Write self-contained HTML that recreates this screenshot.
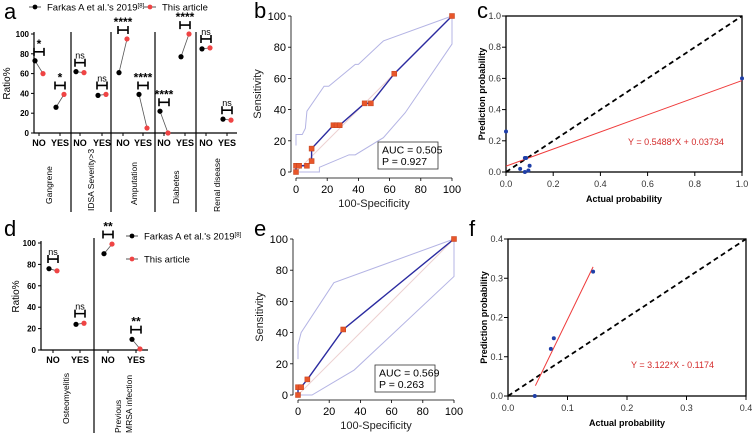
<!DOCTYPE html>
<html><head><meta charset="utf-8"><style>
body{margin:0;background:#fff}
svg{display:block;font-family:"Liberation Sans",Arial,sans-serif}
</style></head><body>
<svg id="s" width="753" height="438" viewBox="0 0 753 438"></svg>
<script>
// ---- Panel a data
const aCats=["NO","YES","NO","YES","NO","YES","NO","YES","NO","YES"];
const aGroups=["Gangrene","IDSA Severity>3","Amputation","Diabetes","Renal disease"];
const aFarkas=[73,26,62,38,61,39,22,77,85,14];
const aThis=[60,39,61,39,95,5,0,100,86,13];
const aSig=["*","*","ns","ns","****","****","****","****","ns","ns"];
const aTicks=[0,20,40,60,80,100];
// ---- Panel d data
const dCats=["NO","YES","NO","YES"];
const dFarkas=[76,24,90,10];
const dThis=[74,25,99,1];
const dSig=["ns","ns","**","**"];
// ---- Panel b data
const bX=[0,0,2,7,10,10,24,26,28,44,48,63,100];
const bY=[0,4,4,4,7,15,30,30,30,44,44,63,100];
const bUpX=[0,0,4,6,7,18,21,38,40,56,100];
const bUpY=[17,24,24,28,39,55,55,69,69,84,100];
const bLoX=[2,15,15,34,38,56,70,100,100];
const bLoY=[0,0,3,11,11,22,38,82,100];
// ---- Panel e data
const eX=[0,0,2,6,29,100];
const eY=[0,5,5,10,42,100];
const eUpX=[0,0,2,23,100];
const eUpY=[23,32,40,72,100];
const eLoX=[0,9,36,100,100];
const eLoY=[0,0,16,76,100];
const rocTicks=[0,20,40,60,80,100];
// ---- Panel c data
const cX=[0,0.06,0.08,0.085,0.1,0.08,0.095,1.0];
const cY=[0.26,0.02,0.09,0.09,0.04,0,0.01,0.6];
const cSlope=0.5488, cInt=0.03734;
const cTicks=[0,0.2,0.4,0.6,0.8,1.0];
// ---- Panel f data
const fX=[0.045,0.072,0.077,0.143];
const fY=[0,0.12,0.147,0.317];
const fSlope=3.122, fInt=-0.1174, fFitRange=[0.046,0.143];
const fTicks=[0,0.1,0.2,0.3,0.4];

const S=document.getElementById('s');
const NS="http://www.w3.org/2000/svg";
function el(tag,at,txt){const e=document.createElementNS(NS,tag);for(const k in at)e.setAttribute(k,at[k]);if(txt!==undefined)e.textContent=txt;S.appendChild(e);return e;}
function tx(x,y,t,o){o=o||{};const e=el('text',{x:x,y:y,'font-size':o.fs||9,'text-anchor':o.a||'middle',fill:o.c||'#000','font-weight':o.b?'bold':'normal',transform:o.r?`rotate(-90 ${x} ${y})`:''},t);return e;}

// panel letters
[["a",4,19],["b",254,18],["c",477,18],["d",4,236],["e",254,236],["f",469,236]].forEach(p=>{
 const e=tx(p[1],p[2],p[0],{fs:22,a:'start'});
 
 
});

// ---------- categorical panels (a, d)
function catPanel(cfg){
 const ys=v=>cfg.y0-(cfg.y0-cfg.y100)*v/100;
 const ax=el('path',{d:`M${cfg.x0},${cfg.y100-2}V${cfg.y0}H${cfg.x1}`,stroke:'#000','stroke-width':1.2,fill:'none'});
 
 
 aTicks.forEach(t=>{
  el('line',{x1:cfg.x0-3,x2:cfg.x0,y1:ys(t),y2:ys(t),stroke:'#000'});
  const l=tx(cfg.x0-5,ys(t)+3,t,{fs:8,a:'end',b:1});
  
  
 });
 const yt=tx(cfg.ytx,(cfg.y0+cfg.y100)/2,'Ratio%',{fs:10,r:1,b:0});
 
 
 cfg.cats.forEach((c,i)=>{
  const cx=cfg.cx[i];
  el('line',{x1:cx,x2:cx,y1:cfg.y0,y2:cfg.y0+3,stroke:'#000'});
  const l=tx(cx,cfg.y0+13,c,{fs:9,b:1});
  
  
  const xb=cx-4,xr=cx+4,yb=ys(cfg.far[i]),yr=ys(cfg.thi[i]);
  el('line',{x1:xb,y1:yb,x2:xr,y2:yr,stroke:'#555','stroke-width':0.8});
  const pb=el('circle',{cx:xb,cy:yb,r:2.6,fill:'#000'});
  
  
  const pr=el('circle',{cx:xr,cy:yr,r:2.6,fill:'#ef4444'});
  
  
  const by=ys(Math.max(cfg.far[i],cfg.thi[i])+9);
  const br=el('path',{d:`M${xb-1},${by-4}V${by+4}M${xb-1},${by}H${xr+1}M${xr+1},${by-4}V${by+4}`,stroke:'#000','stroke-width':1.6,fill:'none'});
  
  
  const sl=tx(cx,by-4,cfg.sig[i],{fs:cfg.sig[i]=='ns'?9:12,b:cfg.sig[i]!='ns'});
  
  
 });
 cfg.divs.forEach(d=>el('line',{x1:d,x2:d,y1:cfg.dTop,y2:cfg.dBot,stroke:'#000','stroke-width':1.2}));
 cfg.groups.forEach((g,i)=>{
  g.lines.forEach((ln,j)=>{
   const l=tx(g.x+j*11,g.y,ln,{fs:8.5,r:1,a:'start',b:0});
   
   
  });
 });
}
catPanel({n:'panel-a',x0:34,x1:237,y0:133,y100:34,ytx:10,cats:aCats,cx:[39,60,80,102,123,143,164,185,206,227],
 far:aFarkas,thi:aThis,sig:aSig,divs:[71,111,155,196],dTop:32,dBot:212,
 groups:[{x:52,y:204,lines:["Gangrene"]},{x:94,y:211,lines:["IDSA Severity>3"]},{x:137,y:205,lines:["Amputation"]},{x:179,y:204,lines:["Diabetes"]},{x:220,y:212,lines:["Renal disease"]}]});
catPanel({n:'panel-d',x0:41,x1:148,y0:350,y100:243,ytx:19,cats:dCats,cx:[53,80,108,136],
 far:dFarkas,thi:dThis,sig:dSig,divs:[94],dTop:238,dBot:433,
 groups:[{x:69,y:424,lines:["Osteomyelitis"]},{x:121,y:433,lines:["Previous","MRSA infection"]}]});

// legends
function legend(x,y,label,col){
 el('line',{x1:x-6,x2:x+6,y1:y,y2:y,stroke:'#555'});
 el('circle',{cx:x,cy:y,r:2.4,fill:col});
 const t=el('text',{x:x+12,y:y+3.5,'font-size':9.5});
 t.textContent=label;
 return t;
}
let L=legend(35,7,"Farkas A et al.'s 2019",'#000');let sp=el('tspan',{dy:-3,'font-size':6},'[8]');L.appendChild(sp);

L=legend(150,7,"This article",'#ef4444');
L=legend(132,236,"Farkas A et al.'s 2019",'#000');sp=el('tspan',{dy:-3,'font-size':6},'[8]');L.appendChild(sp);

L=legend(132,259,"This article",'#ef4444');

// ---------- ROC panels
function roc(c){
 const xs=v=>c.x0+(c.x1-c.x0)*v/100, ys=v=>c.y0-(c.y0-c.y1)*v/100;
 const ax=el('path',{d:`M${c.ax},${ys(100)}V${ys(0)}M${xs(0)},${c.ay}H${xs(100)}`,stroke:'#000','stroke-width':0.8,fill:'none'});
 
 rocTicks.forEach(t=>{
  el('line',{x1:c.ax-3,x2:c.ax,y1:ys(t),y2:ys(t),stroke:'#000','stroke-width':0.8});
  el('line',{x1:xs(t),x2:xs(t),y1:c.ay,y2:c.ay+3,stroke:'#000','stroke-width':0.8});
  let l=tx(c.ax-5,ys(t)+4,t,{fs:11,a:'end'});
  l=tx(xs(t),c.ay+15,t,{fs:11});
 });
 let l=tx(c.ax-30,(ys(0)+ys(100))/2,'Sensitivity',{fs:11,r:1,c:'#222'});
 l=tx((xs(0)+xs(100))/2,c.ay+29,'100-Specificity',{fs:11,c:'#222'});
 el('line',{x1:xs(0),y1:ys(0),x2:xs(100),y2:ys(100),stroke:'#ecd0d0','stroke-width':1});
 const pl=(X,Y)=>X.map((v,i)=>xs(v)+','+ys(Y[i])).join(' ');
 let p=el('polyline',{points:pl(c.ux,c.uy),fill:'none',stroke:'#b4b4e4','stroke-width':1});
 p=el('polyline',{points:pl(c.lx,c.ly),fill:'none',stroke:'#b4b4e4','stroke-width':1});
 p=el('polyline',{points:pl(c.X,c.Y),fill:'none',stroke:'#2b2ba0','stroke-width':1.4});
 c.X.forEach((v,i)=>{const r=el('rect',{x:xs(v)-2.5,y:ys(c.Y[i])-2.5,width:5,height:5,fill:'#e8562a',stroke:'#c0401c','stroke-width':0.5});});
 const b=el('rect',{x:c.bx,y:c.by,width:60,height:27,fill:'#fff',stroke:'#333','stroke-width':0.8});
 l=tx(c.bx+4,c.by+11.5,c.auc,{fs:10.5,a:'start'});
 l=tx(c.bx+4,c.by+23,c.p,{fs:10.5,a:'start'});
}
roc({n:'panel-b',x0:296,x1:452,y0:172,y1:16,ax:291,ay:178,X:bX,Y:bY,ux:bUpX,uy:bUpY,lx:bLoX,ly:bLoY,bx:378,by:142,auc:'AUC = 0.505',p:'P = 0.927'});
roc({n:'panel-e',x0:298,x1:454,y0:395,y1:239,ax:293,ay:400,X:eX,Y:eY,ux:eUpX,uy:eUpY,lx:eLoX,ly:eLoY,bx:375,by:365,auc:'AUC = 0.569',p:'P = 0.263'});

// ---------- calibration panels
function cal(c){
 const mx=c.ticks[c.ticks.length-1];
 const xs=v=>c.x0+(c.x1-c.x0)*v/mx, ys=v=>c.y0-(c.y0-c.y1)*v/mx;
 const fr=el('rect',{x:c.x0,y:c.y1,width:c.x1-c.x0,height:c.y0-c.y1,fill:'none',stroke:'#000','stroke-width':1.3});
 
 c.ticks.forEach(t=>{
  el('line',{x1:c.x0-4,x2:c.x0,y1:ys(t),y2:ys(t),stroke:'#000'});
  el('line',{x1:xs(t),x2:xs(t),y1:c.y0,y2:c.y0+4,stroke:'#000'});
  let l=tx(c.x0-5,ys(t)+3,t.toFixed(1),{fs:9,a:'end',c:'#333'});
  l=tx(xs(t),c.y0+15,t.toFixed(1),{fs:9,c:'#333'});
 });
 let l=tx(c.x0-21,(c.y0+c.y1)/2,'Prediction probability',{fs:9,r:1,b:1});
 l=tx((c.x0+c.x1)/2,c.y0+30,'Actual probability',{fs:9,b:1});
 let d=el('line',{x1:xs(0),y1:ys(0),x2:xs(mx),y2:ys(mx),stroke:'#000','stroke-width':1.8,'stroke-dasharray':'5,3.5'});
 
 d=el('line',{x1:xs(c.fr[0]),y1:ys(c.s*c.fr[0]+c.i),x2:xs(c.fr[1]),y2:ys(c.s*c.fr[1]+c.i),stroke:'#ef3b3b','stroke-width':1});
 
 c.X.forEach((v,i)=>{const p=el('circle',{cx:xs(v),cy:ys(c.Y[i]),r:2,fill:'#1f3fa8'});});
 l=tx(c.tx,c.ty,c.eq,{fs:9,a:'start',c:'#d42a2a'});
}
cal({n:'panel-c',x0:506,x1:742,y0:172,y1:16,ticks:cTicks,X:cX,Y:cY,s:cSlope,i:cInt,fr:[0,1],tx:628,ty:145,eq:'Y = 0.5488*X + 0.03734'});
cal({n:'panel-f',x0:508,x1:746,y0:396,y1:239,ticks:fTicks,X:fX,Y:fY,s:fSlope,i:fInt,fr:fFitRange,tx:631,ty:368,eq:'Y = 3.122*X - 0.1174'});
</script>
</body></html>
